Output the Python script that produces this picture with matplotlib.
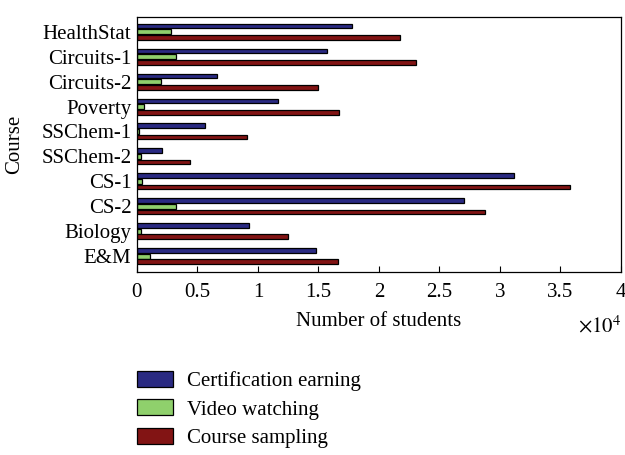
import numpy as np
import matplotlib
matplotlib.use("Agg")
import matplotlib.pyplot as plt

plt.rcParams['font.family'] = ['Liberation Serif', 'DejaVu Serif']
plt.rcParams['mathtext.fontset'] = 'stix'

courses = ["HealthStat", "Circuits-1", "Circuits-2", "Poverty", "SSChem-1",
           "SSChem-2", "CS-1", "CS-2", "Biology", "E&M"]
# values in units of 1e4 students
certification = [1.78, 1.57, 0.66, 1.17, 0.56, 0.21, 3.12, 2.70, 0.93, 1.48]
video = [0.28, 0.32, 0.20, 0.06, 0.02, 0.03, 0.04, 0.32, 0.03, 0.11]
sampling = [2.17, 2.31, 1.50, 1.67, 0.91, 0.44, 3.58, 2.88, 1.25, 1.66]
series_names = ["Certification earning", "Video watching", "Course sampling"]

FS = 15

fig = plt.figure(figsize=(6.25, 4.55), dpi=100)
ax = fig.add_axes([0.219, 0.402, 0.7746, 0.5606])

y = np.arange(len(courses))
h = 0.19
off = 0.225
c_blue = '#2a2a82'
c_green = '#8fd06c'
c_red = '#821414'
b1 = ax.barh(y - off, certification, height=h, color=c_blue, edgecolor='black', lw=0.9)
b2 = ax.barh(y, video, height=h, color=c_green, edgecolor='black', lw=0.9)
b3 = ax.barh(y + off, sampling, height=h, color=c_red, edgecolor='black', lw=0.9)

ax.set_xlim(0, 4)
ax.set_ylim(len(courses) - 1 + 0.64, -0.59)
ax.set_yticks(y)
ax.set_yticklabels(courses, fontsize=FS)
ax.set_xticks(np.arange(0, 4.01, 0.5))
ax.set_xticklabels(["0", "0.5", "1", "1.5", "2", "2.5", "3", "3.5", "4"], fontsize=FS)
ax.tick_params(axis='x', direction='in', length=4, pad=8)
ax.tick_params(axis='y', length=0, pad=4)
ax.set_xlabel("Number of students", fontsize=FS, labelpad=7)
ax.set_ylabel("Course", fontsize=FS, labelpad=12)
for s in ax.spines.values():
    s.set_linewidth(0.9)

fig.text(0.995, 1 - 327 / 455, r"$\times10^4$", fontsize=FS, ha='right', va='center')

fig.legend([b1, b2, b3], series_names, loc='upper left',
           bbox_to_anchor=(137 / 625, 1 - 371 / 455), frameon=False,
           fontsize=FS, handlelength=1.75, handleheight=0.78,
           labelspacing=0.4, handletextpad=0.65, borderpad=0, borderaxespad=0)

fig.savefig("out.png", dpi=100)
